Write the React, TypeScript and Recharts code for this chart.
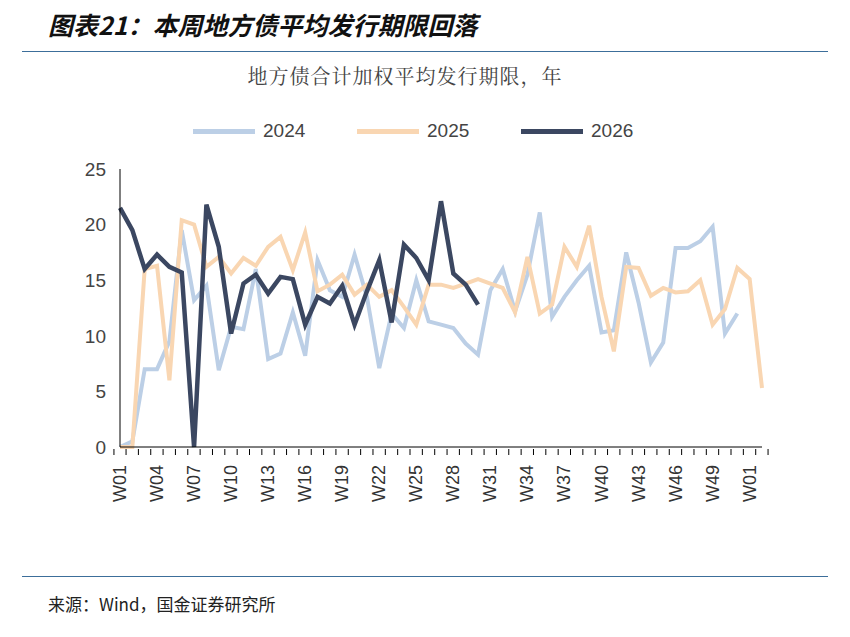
import React from 'react'
import { CartesianGrid, Line, LineChart, XAxis, YAxis } from 'recharts'

const weeks = [
  ...Array.from({ length: 51 }, (_, i) => 'W' + String(i + 1).padStart(2, '0')),
  'W01',
  'W02'
]

const y2024 = [
  0, 0.5, 7, 7, 9.5, 19.5, 13.2, 14.5, 6.9, 10.8, 10.6, 16, 7.9, 8.4, 12.1, 8.2,
  16.8, 14.1, 13.5, 17.3, 13.5, 7.1, 12, 10.7, 15, 11.3, 11, 10.7, 9.3, 8.3,
  14.1, 16, 12.2, 15.5, 21.1, 11.7, 13.5, 15, 16.3, 10.3, 10.5, 17.5, 13, 7.6,
  9.4, 17.9, 17.9, 18.5, 19.8, 10.2, 12
]
const y2025 = [
  0, 0, 16, 16.3, 6, 20.4, 20, 16.2, 17.1, 15.6, 17, 16.3, 18, 18.9, 15.9, 19.3,
  14, 14.6, 15.5, 13.7, 14.6, 13.5, 14.1, 12.6, 11, 14.6, 14.6, 14.3, 14.7,
  15.1, 14.7, 14.3, 12.1, 17.1, 12, 12.8, 18, 16.2, 19.9, 13.5, 8.6, 16.2, 16.1,
  13.6, 14.3, 13.9, 14, 15, 11, 12.4, 16.1, 15.1, 5.3
]
const y2026 = [
  21.5, 19.5, 16, 17.3, 16.2, 15.7, 0, 21.8, 18, 10.2, 14.7, 15.5, 13.8, 15.3,
  15.1, 11, 13.5, 12.9, 14.5, 11, 14, 16.8, 11.2, 18.2, 17, 15, 22.1, 15.6, 14.6,
  12.8
]
const yTicks = [0, 5, 10, 15, 20, 25]

const data = weeks.map((w, i) => ({
  week: w,
  y2024: y2024[i],
  y2025: y2025[i],
  y2026: y2026[i]
}))

const series = [
  { key: 'y2024', name: '2024', color: '#bccfe6' },
  { key: 'y2025', name: '2025', color: '#f9d6b2' },
  { key: 'y2026', name: '2026', color: '#3b4761' }
]

const XTick = (props: any) => {
  const { x, y, payload, index } = props
  const band = 12.1
  return (
    <g>
      <line x1={x + band / 2} x2={x + band / 2} y1={y} y2={y - 6} stroke="#000" />
      {index === 0 && <line x1={x - band / 2} x2={x - band / 2} y1={y} y2={y - 6} stroke="#000" />}
      {index % 3 === 0 && (
        <text
          x={x + 6}
          y={y + 10}
          transform={`rotate(-90 ${x + 6} ${y + 10})`}
          textAnchor="end"
          fontSize={18}
          fill="#333"
          fontFamily="Liberation Sans, Arial, sans-serif"
        >
          {payload.value}
        </text>
      )}
    </g>
  )
}

export default function App() {
  const font = '"Noto Sans CJK SC", sans-serif'
  return (
    <div style={{ position: 'absolute', left: 0, top: 0, width: 850, height: 637, background: '#fff' }}>
      <div style={{ position: 'absolute', left: 48, top: 6, fontFamily: font, fontSize: 25, fontWeight: 700, fontStyle: 'italic', color: '#111' }}>
        图表21：本周地方债平均发行期限回落
      </div>
      <div style={{ position: 'absolute', left: 22, top: 51, width: 806, height: 1, background: '#3c6e9a' }} />
      <div style={{ position: 'absolute', left: 0, width: 810, textAlign: 'center', top: 61, fontFamily: '"Noto Serif CJK SC", "Noto Sans CJK SC", serif', fontSize: 20, color: '#444', letterSpacing: 1 }}>
        地方债合计加权平均发行期限，年
      </div>
      <div style={{ position: 'absolute', top: 120, left: 193, display: 'flex', fontFamily: 'Liberation Sans, Arial, sans-serif', fontSize: 19, color: '#444' }}>
        {series.map((s) => (
          <div key={s.key} style={{ display: 'flex', alignItems: 'center', width: 164 }}>
            <div style={{ width: 62, height: 5, background: s.color, marginRight: 8 }} />
            {s.name}
          </div>
        ))}
      </div>
      <div style={{ position: 'absolute', top: 0, left: 0 }}>
        <LineChart width={850} height={637} data={data} margin={{ top: 169, right: 88, bottom: 130, left: 80 }}>
          <CartesianGrid horizontal={false} vertical={false} />
          <XAxis
            dataKey="week"
            interval={0}
            tick={<XTick />}
            tickLine={false}
            axisLine={{ stroke: '#000' }}
            height={60}
          />
          <YAxis
            domain={[0, 25]}
            ticks={yTicks}
            width={40}
            axisLine={{ stroke: '#000' }}
            tickLine={false}
            tick={{ fill: '#444', fontSize: 19, fontFamily: 'Liberation Sans, Arial, sans-serif' }}
            tickMargin={8}
          />
          {series.map((s) => (
            <Line
              key={s.key}
              dataKey={s.key}
              stroke={s.color}
              strokeWidth={s.key === 'y2026' ? 4.5 : 4}
              dot={false}
              type="linear"
              isAnimationActive={false}
            />
          ))}
        </LineChart>
      </div>
      <div style={{ position: 'absolute', left: 22, top: 576, width: 806, height: 1, background: '#3c6e9a' }} />
      <div style={{ position: 'absolute', left: 48, top: 591, fontFamily: font, fontSize: 17, color: '#222' }}>
        来源：Wind，国金证券研究所
      </div>
    </div>
  )
}
